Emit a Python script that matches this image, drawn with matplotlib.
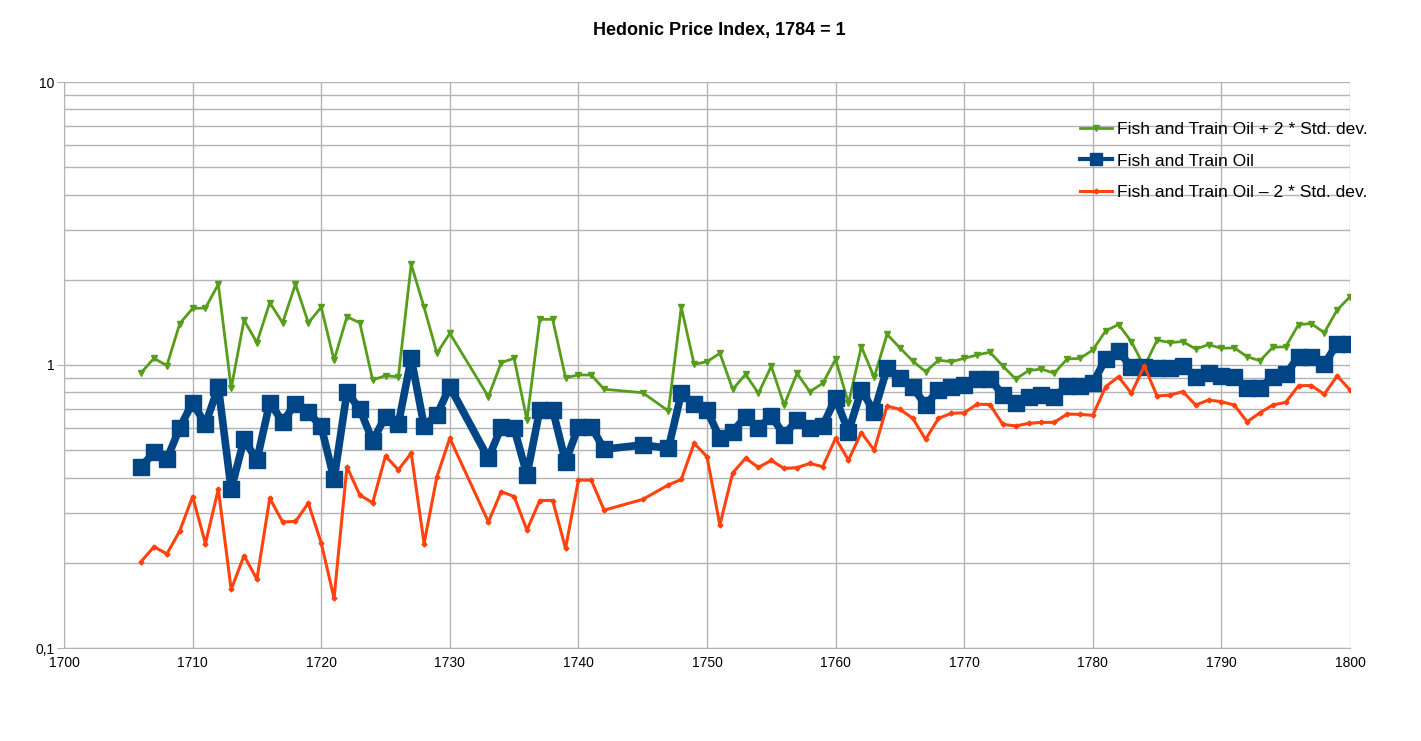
import numpy as np
import matplotlib
matplotlib.use("Agg")
import matplotlib.pyplot as plt
from matplotlib.ticker import FixedLocator, FuncFormatter, LogLocator, NullFormatter

plt.rcParams['font.family'] = ['Liberation Sans', 'DejaVu Sans']

# years with observations (gaps 1731-32, 1743-44, 1746)
years = list(range(1706, 1731)) + list(range(1733, 1743)) + [1745] + list(range(1747, 1801))

upper = [0.94, 1.056, 0.995, 1.40, 1.585, 1.59, 1.93, 0.827, 1.44, 1.20,
         1.66, 1.41, 1.93, 1.41, 1.60, 1.04, 1.48, 1.41, 0.885, 0.917,
         0.909, 2.27, 1.60, 1.10, 1.294,
         0.773, 1.02, 1.056, 0.639, 1.45, 1.45, 0.902, 0.922, 0.922, 0.821,
         0.798,
         0.688, 1.60, 1.006, 1.027, 1.10, 0.821, 0.927, 0.794, 0.99, 0.722,
         0.935, 0.805, 0.862, 1.047, 0.732, 1.16, 0.905, 1.284, 1.15, 1.033,
         0.947, 1.04, 1.027, 1.056, 1.085, 1.11, 0.992, 0.892, 0.955, 0.968,
         0.935, 1.05, 1.055, 1.13, 1.32, 1.39, 1.21, 0.986, 1.225, 1.20,
         1.21, 1.139, 1.18, 1.146, 1.15, 1.07, 1.035, 1.155, 1.16, 1.39,
         1.40, 1.30, 1.565, 1.743]

index = [0.437, 0.491, 0.464, 0.60, 0.736, 0.617, 0.838, 0.364, 0.546, 0.461,
         0.736, 0.63, 0.73, 0.68, 0.607, 0.395, 0.801, 0.699, 0.54, 0.657,
         0.619, 1.056, 0.609, 0.666, 0.838,
         0.468, 0.603, 0.598, 0.409, 0.695, 0.695, 0.455, 0.605, 0.605, 0.504,
         0.522,
         0.508, 0.794, 0.728, 0.693, 0.551, 0.581, 0.657, 0.598, 0.66, 0.566,
         0.639, 0.60, 0.609, 0.763, 0.581, 0.816, 0.684, 0.973, 0.897, 0.834,
         0.722, 0.816, 0.834, 0.85, 0.892, 0.895, 0.783, 0.736, 0.773, 0.783,
         0.769, 0.843, 0.843, 0.862, 1.05, 1.12, 0.981, 0.981, 0.975, 0.975,
         0.995, 0.909, 0.937, 0.915, 0.905, 0.827, 0.83, 0.909, 0.927, 1.07,
         1.07, 1.008, 1.186, 1.186]

lower = [0.202, 0.228, 0.215, 0.259, 0.343, 0.234, 0.364, 0.161, 0.212, 0.175,
         0.338, 0.279, 0.28, 0.325, 0.235, 0.150, 0.437, 0.347, 0.326, 0.477,
         0.426, 0.488, 0.234, 0.403, 0.551,
         0.279, 0.357, 0.343, 0.261, 0.332, 0.332, 0.225, 0.392, 0.392, 0.307,
         0.335,
         0.377, 0.394, 0.529, 0.474, 0.272, 0.416, 0.468, 0.435, 0.46, 0.431,
         0.434, 0.449, 0.437, 0.551, 0.461, 0.577, 0.50, 0.716, 0.697, 0.648,
         0.546, 0.648, 0.675, 0.678, 0.727, 0.725, 0.617, 0.609, 0.622, 0.627,
         0.627, 0.671, 0.669, 0.664, 0.838, 0.909, 0.794, 0.992, 0.777, 0.783,
         0.805, 0.722, 0.752, 0.742, 0.722, 0.63, 0.678, 0.722, 0.738, 0.845,
         0.846, 0.788, 0.915, 0.816]

labels = ["Fish and Train Oil + 2 * Std. dev.",
          "Fish and Train Oil",
          "Fish and Train Oil \u2013 2 * Std. dev."]

fig = plt.figure(figsize=(14.21, 7.41), dpi=100)
ax = fig.add_axes([64 / 1421, 1 - 648 / 741, (1350 - 64) / 1421, (648 - 82) / 741])

ax.plot(years, upper, color='#579d1c', lw=2, marker='v', ms=5, label=labels[0])
ax.plot(years, index, color='#004586', lw=5.5, marker='s', ms=11, label=labels[1])
ax.plot(years, lower, color='#ff420e', lw=2.2, marker='D', ms=2.5, label=labels[2])

ax.set_yscale('log')
ax.set_ylim(0.1, 10)
ax.set_xlim(1700, 1800)
ax.xaxis.set_major_locator(FixedLocator(range(1700, 1801, 10)))
ax.yaxis.set_major_locator(FixedLocator([0.1, 1, 10]))
ax.yaxis.set_minor_locator(LogLocator(base=10, subs=np.arange(2, 10)))
ax.yaxis.set_minor_formatter(NullFormatter())
ax.yaxis.set_major_formatter(FuncFormatter(lambda v, p: ('%g' % v).replace('.', ',')))

ax.grid(True, which='both', axis='y', color='#b3b3b3', lw=1)
ax.grid(True, which='major', axis='x', color='#b3b3b3', lw=1)
ax.set_axisbelow(True)
for s in ['top', 'right']:
    ax.spines[s].set_visible(False)
for s in ['left', 'bottom']:
    ax.spines[s].set_color('#b3b3b3')
ax.tick_params(axis='y', which='major', length=5, color='#b3b3b3', labelsize=10, pad=2)
ax.tick_params(axis='y', which='minor', length=0)
ax.tick_params(axis='x', length=0, labelsize=10, pad=6)

fig.suptitle("Hedonic Price Index, 1784 = 1", x=0.506, y=0.97, fontsize=13, fontweight='bold')

leg = ax.legend(loc='upper left', bbox_to_anchor=(1073 / 1421, 1 - 115 / 741),
                bbox_transform=fig.transFigure, frameon=False, fontsize=12.6,
                handlelength=1.8, handletextpad=0.3, labelspacing=0.92, borderaxespad=0)
leg.legend_handles[1].set_markersize(8)
leg.legend_handles[1].set_linewidth(3)

fig.savefig("out.png", dpi=100)
